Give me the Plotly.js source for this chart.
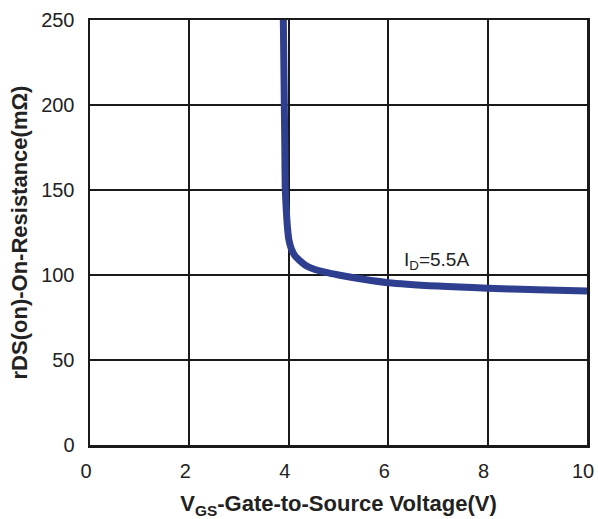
<!DOCTYPE html>
<html>
<head>
<meta charset="utf-8">
<script src="https://cdn.plot.ly/plotly-3.0.1.min.js"></script>
<style>html,body{margin:0;padding:0;background:#fff;}</style>
</head>
<body>
<div id="chart" style="width:598px;height:519px;"></div>
<script>
// Data
const vgs = [3.89, 3.90, 3.91, 3.92, 3.93, 3.95, 3.97, 4.00, 4.05, 4.12, 4.22, 4.35, 4.50, 4.75, 5.0, 5.5, 6.0, 7.0, 8.0, 9.0, 10.0];
const rds = [250, 225, 200, 175, 150, 138, 129, 121, 115.5, 111.5, 108.5, 105.5, 103.5, 101.5, 100, 97.5, 95.5, 93.5, 92.2, 91.3, 90.6];
const xTicks = [0, 2, 4, 6, 8, 10];
const yTicks = [0, 50, 100, 150, 200, 250];
const curveLabel = "I<sub>D</sub>=5.5A";
const labelPos = [6.98, 108.5];

const font = "Liberation Sans, Arial, sans-serif";

const trace = {
  x: vgs, y: rds, type: "scatter", mode: "lines",
  line: {color: "#2f3f90", width: 7, shape: "spline", smoothing: 0.8},
  hoverinfo: "none", showlegend: false
};

const layout = {
  width: 598, height: 519,
  margin: {l: 90, r: 11, t: 20, b: 74},
  paper_bgcolor: "#ffffff", plot_bgcolor: "#ffffff",
  font: {family: font, color: "#222"},
  xaxis: {
    range: [0, 10], tickvals: xTicks, ticktext: xTicks.map(String),
    showgrid: true, gridcolor: "#1a1a1a", gridwidth: 2,
    showline: true, linecolor: "#1a1a1a", linewidth: 2.5, mirror: true,
    zeroline: false, ticks: "", ticklabelstandoff: 6, ticklabelshift: -4,
    ticklabeloverflow: "allow",
    tickfont: {size: 20, family: font, color: "#222"},
    title: {text: "V<sub>GS</sub>-Gate-to-Source Voltage(V)", standoff: 25,
            font: {size: 22, family: font, color: "#222", weight: "bold"}},
    fixedrange: true
  },
  yaxis: {
    range: [0, 250], tickvals: yTicks, ticktext: yTicks.map(String),
    showgrid: true, gridcolor: "#1a1a1a", gridwidth: 2,
    showline: true, linecolor: "#1a1a1a", linewidth: 2.5, mirror: true,
    zeroline: false, ticks: "", ticklabelstandoff: 9,
    ticklabeloverflow: "allow",
    tickfont: {size: 20, family: font, color: "#222"},
    title: {text: "rDS(on)-On-Resistance(mΩ)", standoff: 8,
            font: {size: 22, family: font, color: "#222", weight: "bold"}},
    fixedrange: true
  },
  annotations: [
    {x: labelPos[0], y: labelPos[1], xref: "x", yref: "y", text: curveLabel,
     showarrow: false, font: {size: 19, family: font, color: "#222"},
     xanchor: "center", yanchor: "middle"}
  ]
};

Plotly.newPlot("chart", [trace], layout, {displayModeBar: false, staticPlot: true});
</script>
</body>
</html>
